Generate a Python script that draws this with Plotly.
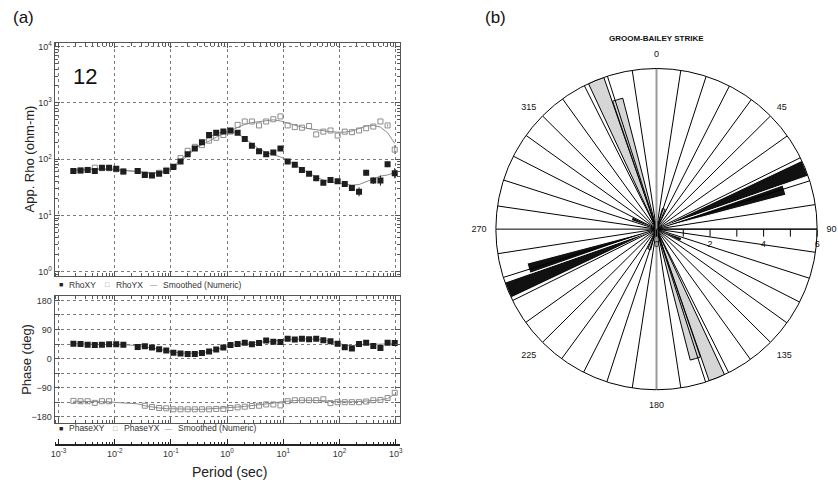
import plotly.graph_objects as go

# ---------------- data: magnetotelluric sounding (site 12) ----------------
log10_period = [-2.735, -2.608, -2.481, -2.354, -2.227, -2.100, -1.973, -1.846,
                -1.591, -1.464, -1.337, -1.210, -1.083, -0.956, -0.829, -0.702, -0.575,
                -0.448, -0.321, -0.194, -0.067,
                0.060, 0.187, 0.314, 0.441, 0.568, 0.695, 0.822, 0.949,
                1.077, 1.204, 1.331, 1.458, 1.585, 1.712, 1.839, 1.966,
                2.093, 2.220, 2.347, 2.474, 2.601, 2.728, 2.855, 2.982]

log_rho_xy = [1.79, 1.80, 1.81, 1.79, 1.85, 1.85, 1.83, 1.78,
              1.79, 1.72, 1.71, 1.74, 1.79, 1.86, 1.96, 2.09, 2.19, 2.30, 2.43, 2.47, 2.49,
              2.51, 2.47, 2.36, 2.24, 2.14, 2.09, 2.12, 2.19,
              1.96, 1.90, 1.81, 1.74, 1.66, 1.58, 1.63, 1.61,
              1.56, 1.49, 1.42, 1.76, 1.62, 1.62, 1.91, 1.75]
log_rho_yx = [1.79, 1.80, 1.81, 1.85, 1.84, 1.84, 1.82, 1.78,
              1.79, 1.73, 1.72, 1.76, 1.81, 1.87, 2.02, 2.15, 2.22, 2.25, 2.33, 2.38, 2.43,
              2.49, 2.61, 2.67, 2.67, 2.60, 2.67, 2.71, 2.76,
              2.60, 2.57, 2.56, 2.59, 2.44, 2.49, 2.51, 2.42,
              2.49, 2.48, 2.51, 2.55, 2.58, 2.67, 2.60, 2.17]
err_rho_xy = [0, 0, 0, 0, 0, 0, 0, 0,
              0, 0, 0, 0, 0, 0, 0, 0, 0, 0, 0, 0, 0,
              0, 0, 0, 0, 0, 0, 0, 0,
              0, 0, 0, 0, 0, 0, 0, 0,
              0.03, 0.05, 0.08, 0.05, 0.06, 0.09, 0.05, 0.09]
err_rho_yx = [0, 0, 0, 0, 0, 0, 0, 0,
              0, 0, 0, 0, 0, 0, 0, 0, 0, 0, 0, 0, 0,
              0, 0, 0, 0, 0, 0, 0, 0,
              0, 0, 0, 0, 0, 0, 0, 0,
              0, 0, 0, 0, 0, 0, 0.02, 0.08]
smooth_rho_xy = [1.80, 1.81, 1.82, 1.82, 1.82, 1.82, 1.81, 1.80,
                 1.78, 1.76, 1.75, 1.75, 1.78, 1.85, 1.95, 2.07, 2.18, 2.29, 2.39, 2.45, 2.49,
                 2.50, 2.46, 2.37, 2.27, 2.18, 2.12, 2.08, 2.04,
                 1.98, 1.90, 1.82, 1.75, 1.68, 1.63, 1.60, 1.58,
                 1.55, 1.54, 1.55, 1.60, 1.66, 1.70, 1.72, 1.76]
smooth_rho_yx = [1.80, 1.81, 1.82, 1.83, 1.83, 1.83, 1.82, 1.80,
                 1.78, 1.76, 1.75, 1.77, 1.81, 1.88, 1.99, 2.10, 2.19, 2.26, 2.33, 2.39, 2.45,
                 2.51, 2.57, 2.62, 2.65, 2.67, 2.69, 2.70, 2.68,
                 2.64, 2.60, 2.57, 2.54, 2.52, 2.50, 2.49, 2.48,
                 2.48, 2.50, 2.55, 2.59, 2.60, 2.57, 2.47, 2.28]

phase_xy = [46, 45, 43, 42, 43, 44, 44, 43,
            36, 38, 34, 29, 25, 18, 16, 14, 14, 17, 22, 28, 34,
            42, 45, 49, 44, 48, 56, 52, 51,
            61, 59, 61, 60, 61, 57, 54, 46,
            35, 31, 45, 49, 39, 33, 49, 48]
phase_yx = [-131, -132, -132, -137, -132, -132, None, None,
            None, -146, -150, -153, -154, -157, -157, -157, -157, -157, -157, -156, -156,
            -153, -151, -149, -147, -146, -142, -142, -145,
            -132, -129, -129, -129, -129, -126, -138, -135,
            -135, -135, -135, -133, -129, -128, -122, -106]
smooth_phase_xy = [46, 45, 45, 44, 44, 44, 44, 43,
                   40, 37, 33, 29, 24, 20, 17, 16, 16, 18, 22, 28, 35,
                   41, 45, 47, 48, 50, 52, 54, 57,
                   59, 60, 61, 61, 60, 58, 54, 48,
                   42, 40, 43, 45, 44, 44, 46, 46]
smooth_phase_yx = [-132, -132, -133, -133, -134, -134, -136, -137,
                   -140, -146, -150, -153, -155, -156, -157, -157, -157, -157, -156, -155, -154,
                   -152, -150, -148, -146, -144, -141, -138, -134,
                   -131, -130, -129, -129, -129, -130, -133, -134,
                   -134, -134, -133, -132, -130, -128, -124, -110]

decade_vals = [1e-3, 1e-2, 1e-1, 1, 10, 100, 1000]
decade_text = ["10<sup>-3</sup>", "10<sup>-2</sup>", "10<sup>-1</sup>", "10<sup>0</sup>",
               "10<sup>1</sup>", "10<sup>2</sup>", "10<sup>3</sup>"]
rho_vals = [1, 10, 100, 1000, 10000]
rho_text = ["10<sup>0</sup>", "10<sup>1</sup>", "10<sup>2</sup>", "10<sup>3</sup>", "10<sup>4</sup>"]

# ---------------- data: Groom-Bailey strike rose ----------------
spoke_angles = [8.7, 18.0, 27.0, 36.2, 45.2, 54.5, 63.6, 72.5, 81.2,
                98.3, 107.8, 117.0, 125.7, 134.8, 144.2, 153.3, 162.2, 171.3]
black_theta = [67.7, 73.0, 113.0, 247.7, 253.0, 293.0]
black_r = [6.0, 5.0, 1.0, 6.0, 5.0, 1.0]
black_width = [6.0, 4.5, 8.0, 6.0, 4.5, 8.0]
gray_theta = [337.9, 343.3, 20.0, 157.9, 163.3, 200.0]
gray_r = [6.0, 5.05, 0.8, 6.0, 5.05, 0.8]
gray_width = [5.9, 4.5, 8.0, 5.9, 4.5, 8.0]
angle_ticks = [0, 45, 90, 135, 180, 225, 270, 315]
radial_ticks = [0, 1, 2, 3, 4, 5, 6]
radial_text = ["0", "", "2", "", "4", "", "6"]

FONT = "Liberation Sans, Arial, sans-serif"
period = [10 ** p for p in log10_period]


def lin(vals):
    return [10 ** v for v in vals]


def err_up(vals, errs):
    return [10 ** (v + e) - 10 ** v for v, e in zip(vals, errs)]


def err_dn(vals, errs):
    return [10 ** v - 10 ** (v - e) for v, e in zip(vals, errs)]


fig = go.Figure()
LINE_GRAY = "#8a8a8a"

# --- apparent resistivity ---
fig.add_trace(go.Scatter(x=period, y=lin(smooth_rho_yx), mode="lines",
                         line=dict(color=LINE_GRAY, width=1), xaxis="x", yaxis="y"))
fig.add_trace(go.Scatter(x=period, y=lin(smooth_rho_xy), mode="lines",
                         line=dict(color=LINE_GRAY, width=1), xaxis="x", yaxis="y"))
fig.add_trace(go.Scatter(x=period, y=lin(log_rho_yx), mode="markers",
                         marker=dict(symbol="square-open", size=5, color="#8c8c8c",
                                     line=dict(width=1, color="#8c8c8c")),
                         error_y=dict(type="data", symmetric=False,
                                      array=err_up(log_rho_yx, err_rho_yx),
                                      arrayminus=err_dn(log_rho_yx, err_rho_yx),
                                      color="#8c8c8c", thickness=1, width=0),
                         xaxis="x", yaxis="y"))
fig.add_trace(go.Scatter(x=period, y=lin(log_rho_xy), mode="markers",
                         marker=dict(symbol="square", size=6, color="#1e1e1e"),
                         error_y=dict(type="data", symmetric=False,
                                      array=err_up(log_rho_xy, err_rho_xy),
                                      arrayminus=err_dn(log_rho_xy, err_rho_xy),
                                      color="#1e1e1e", thickness=1, width=0),
                         xaxis="x", yaxis="y"))

# --- phase ---
fig.add_trace(go.Scatter(x=period, y=smooth_phase_yx, mode="lines",
                         line=dict(color=LINE_GRAY, width=1), xaxis="x2", yaxis="y2"))
fig.add_trace(go.Scatter(x=period, y=smooth_phase_xy, mode="lines",
                         line=dict(color=LINE_GRAY, width=1), xaxis="x2", yaxis="y2"))
fig.add_trace(go.Scatter(x=period, y=phase_yx, mode="markers",
                         marker=dict(symbol="square-open", size=5, color="#8c8c8c",
                                     line=dict(width=1, color="#8c8c8c")),
                         xaxis="x2", yaxis="y2"))
fig.add_trace(go.Scatter(x=period, y=phase_xy, mode="markers",
                         marker=dict(symbol="square", size=6, color="#1e1e1e"),
                         xaxis="x2", yaxis="y2"))
# anchor trace for the separate period axis
fig.add_trace(go.Scatter(x=[1], y=[0], mode="markers", marker=dict(opacity=0),
                         hoverinfo="skip", xaxis="x3", yaxis="y2"))

# --- rose diagram ---
fig.add_trace(go.Barpolar(r=gray_r, theta=gray_theta, width=gray_width,
                          marker=dict(color="#d6d6d6", line=dict(color="black", width=1))))
fig.add_trace(go.Barpolar(r=black_r, theta=black_theta, width=black_width,
                          marker=dict(color="#111111", line=dict(color="white", width=1))))
sr, st = [], []
for a in spoke_angles:
    sr += [6, 0, 6, None]
    st += [a, a, a + 180, None]
fig.add_trace(go.Scatterpolar(r=sr, theta=st, mode="lines",
                              line=dict(color="black", width=1)))
fig.add_trace(go.Scatterpolar(r=[6, 0, 6], theta=[90, 90, 270], mode="lines",
                              line=dict(color="black", width=1)))
fig.add_trace(go.Scatterpolar(r=[6, 0, 6], theta=[0, 0, 180], mode="lines",
                              line=dict(color="#9a9a9a", width=2)))

W, H = 838, 488
XD = [51 / W, 399 / W]
GRID = dict(showgrid=True, gridcolor="#7a7a7a", griddash="3px,3px", gridwidth=1)
FRAME = dict(showline=True, linecolor="#555", linewidth=1, mirror="allticks",
             ticks="inside", tickcolor="#555", zeroline=False)

fig.update_layout(
    width=W, height=H, autosize=False,
    margin=dict(l=0, r=0, t=0, b=0),
    paper_bgcolor="white", plot_bgcolor="white",
    showlegend=False,
    font=dict(family=FONT, color="#222", size=9),
    xaxis=dict(domain=XD, anchor="y", type="log", range=[-3.07, 3.07],
               showticklabels=False, dtick=1, ticklen=5,
               minor=dict(ticks="inside", ticklen=3, dtick="D1", tickcolor="#555", showgrid=False),
               **GRID, **FRAME),
    yaxis=dict(domain=[1 - 275 / H, 1 - 40 / H], anchor="x", type="log", range=[-0.07, 4.07],
               tickmode="array", tickvals=rho_vals, ticktext=rho_text, ticklen=5,
               tickfont=dict(size=9, color="#333"),
               minor=dict(ticks="inside", ticklen=3, dtick="D1", tickcolor="#555", showgrid=False),
               **GRID, **FRAME),
    xaxis2=dict(domain=XD, anchor="y2", type="log", range=[-3.07, 3.07],
                showticklabels=False, dtick=1, ticklen=5,
                minor=dict(ticks="inside", ticklen=3, dtick="D1", tickcolor="#555", showgrid=False),
                **GRID, **FRAME),
    yaxis2=dict(domain=[1 - 423 / H, 1 - 295 / H], anchor="x2", range=[-198, 195],
                tick0=0, dtick=90, ticklen=5, tickfont=dict(size=9, color="#333"),
                minor=dict(ticks="inside", ticklen=3, tick0=0, dtick=45, tickcolor="#555",
                           showgrid=True, gridcolor="#7a7a7a", griddash="3px,3px"),
                **GRID, **FRAME),
    xaxis3=dict(overlaying="x2", anchor="free", position=1 - 446 / H, side="bottom",
                type="log", range=[-3.07, 3.07], tickmode="array",
                tickvals=decade_vals, ticktext=decade_text,
                ticks="inside", ticklen=6, tickcolor="#222",
                minor=dict(ticks="inside", ticklen=3, dtick="D1", tickcolor="#222"),
                showline=True, linecolor="#222", linewidth=1.5, showgrid=False,
                zeroline=False, tickfont=dict(size=9, color="#333")),
    polar=dict(
        domain=dict(x=[496 / W, 820 / W], y=[1 - 390 / H, 1 - 66 / H]),
        bgcolor="white", bargap=0,
        angularaxis=dict(rotation=90, direction="clockwise", showline=True,
                         linecolor="black", linewidth=1, showgrid=False,
                         tickmode="array", tickvals=angle_ticks,
                         ticktext=[str(a) for a in angle_ticks],
                         ticks="outside", ticklen=7, tickcolor="white",
                         tickfont=dict(size=9, color="#111")),
        radialaxis=dict(range=[0, 6], angle=0, side="clockwise", showline=True,
                        linecolor="black", linewidth=1, showgrid=False,
                        tickmode="array", tickvals=radial_ticks, ticktext=radial_text,
                        ticks="outside", ticklen=7, tickcolor="black", tickangle=0,
                        tickfont=dict(size=9, color="#111")),
    ),
)

ann = [
    dict(x=20 / W, y=1 - 15 / H, text="(a)", font=dict(size=17, color="#111")),
    dict(x=496 / W, y=1 - 15 / H, text="(b)", font=dict(size=17, color="#111")),
    dict(x=82 / W, y=1 - 74 / H, text="12", font=dict(size=22, color="#111")),
    dict(x=26 / W, y=1 - 157 / H, text="App. Rho (ohm-m)", textangle=-90,
         font=dict(size=13, color="#222")),
    dict(x=22 / W, y=1 - 359 / H, text="Phase (deg)", textangle=-90,
         font=dict(size=13, color="#222")),
    dict(x=227 / W, y=1 - 473 / H, text="Period (sec)", font=dict(size=14, color="#222")),
    dict(x=658 / W, y=1 - 36 / H, text="<b>GROOM-BAILEY STRIKE</b>",
         font=dict(size=8, color="#111")),
    # legends
    dict(x=57 / W, y=1 - 284 / H, text="■", font=dict(size=7, color="#222")),
    dict(x=64 / W, y=1 - 284 / H, text="RhoXY", xanchor="left", font=dict(size=8.5, color="#333")),
    dict(x=104 / W, y=1 - 284 / H, text="□", font=dict(size=7, color="#888")),
    dict(x=111 / W, y=1 - 284 / H, text="RhoYX", xanchor="left", font=dict(size=8.5, color="#333")),
    dict(x=151 / W, y=1 - 284 / H, text="—", font=dict(size=7, color="#888")),
    dict(x=158 / W, y=1 - 284 / H, text="Smoothed (Numeric)", xanchor="left",
         font=dict(size=8.5, color="#333")),
    dict(x=57 / W, y=1 - 429 / H, text="■", font=dict(size=7, color="#222")),
    dict(x=64 / W, y=1 - 429 / H, text="PhaseXY", xanchor="left", font=dict(size=8.5, color="#333")),
    dict(x=112 / W, y=1 - 429 / H, text="□", font=dict(size=7, color="#888")),
    dict(x=119 / W, y=1 - 429 / H, text="PhaseYX", xanchor="left", font=dict(size=8.5, color="#333")),
    dict(x=166 / W, y=1 - 429 / H, text="—", font=dict(size=7, color="#888")),
    dict(x=173 / W, y=1 - 429 / H, text="Smoothed (Numeric)", xanchor="left",
         font=dict(size=8.5, color="#333")),
]
for a in ann:
    a.setdefault("xanchor", "center")
    a.update(xref="paper", yref="paper", yanchor="middle", showarrow=False)
    a["font"] = dict(family=FONT, **a["font"])
fig.update_layout(annotations=ann)

fig.write_html("out.html", config={"displayModeBar": False},
               post_script="document.body.style.margin='0';")
